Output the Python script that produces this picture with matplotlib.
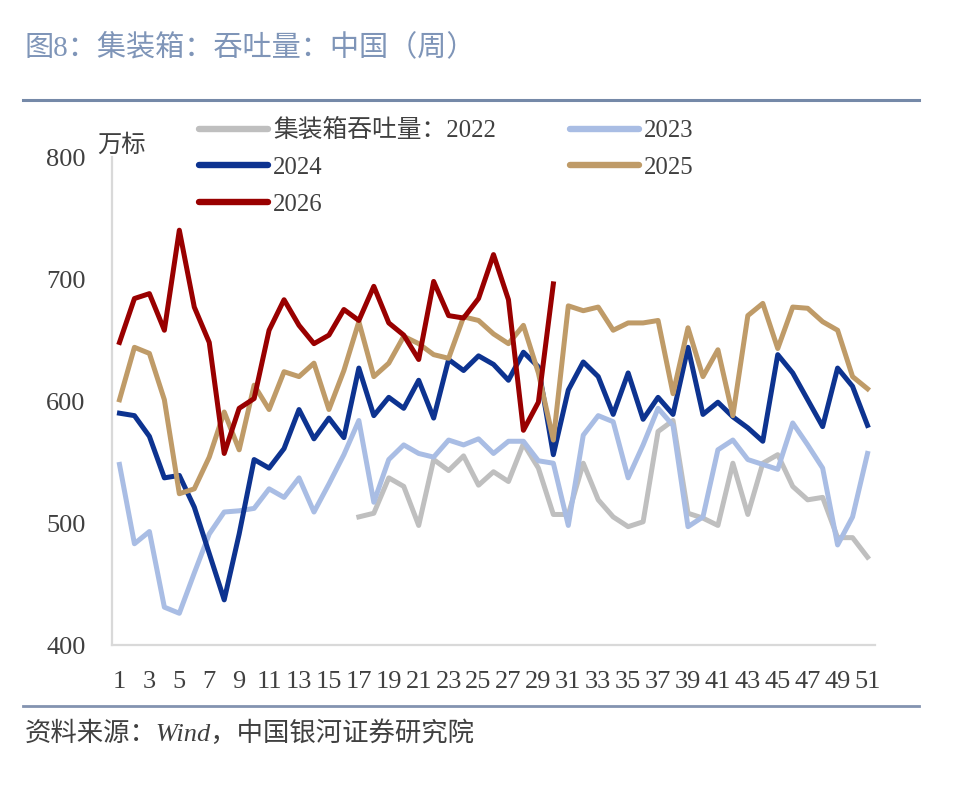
import matplotlib.pyplot as plt
from matplotlib.lines import Line2D

plt.rcParams['font.family'] = ['Liberation Serif', 'Noto Sans CJK SC', 'DejaVu Sans']

# x categories: week number
weeks = list(range(1, 52))
xtick_labels = [str(w) for w in range(1, 52, 2)]

# 集装箱吞吐量（万标），按周
v2022_start = 17
v2022 = [505, 508, 537, 530, 498, 552, 543, 555, 531, 542, 534, 565, 545, 507,
         507, 549, 519, 505, 497, 501, 575, 584, 508, 504, 498, 549, 507, 549,
         556, 530, 519, 521, 488, 488, 472]
v2023 = [548, 483, 493, 431, 426, 459, 491, 509, 510, 512,
         528, 521, 537, 509, 532, 556, 584, 517, 552, 564,
         557, 554, 568, 564, 569, 557, 567, 567, 551, 549,
         498, 572, 588, 583, 537, 564, 594, 580, 497, 505,
         560, 568, 552, 548, 544, 582, 564, 545, 482, 505, 557]
v2024 = [590, 588, 571, 537, 539, 513, 475, 437, 491, 552,
         545, 561, 593, 569, 586, 570, 627, 588, 603, 594,
         617, 586, 634, 625, 637, 630, 617, 640, 628, 556,
         609, 632, 620, 589, 623, 585, 603, 589, 644, 589,
         599, 587, 578, 567, 638, 623, 601, 579, 627, 612, 580]
v2025 = [601, 644, 639, 601, 524, 528, 554, 591, 560, 613,
         593, 624, 620, 631, 593, 625, 665, 620, 631, 653,
         647, 638, 635, 669, 666, 655, 647, 662, 623, 568,
         678, 674, 677, 658, 664, 664, 666, 606, 660, 620,
         642, 588, 670, 680, 643, 677, 676, 665, 658, 620, 610]
v2026 = [648, 684, 688, 658, 740, 677, 648, 557, 594, 602,
         658, 683, 662, 647, 654, 675, 666, 694, 664, 654,
         634, 698, 670, 668, 684, 720, 683, 576, 599, 696]

labels = ['集装箱吞吐量：2022', '2023', '2024', '2025', '2026']
colors = ['#BFBFBF', '#A9BDE4', '#0D3390', '#BF9B68', '#990000']

fig = plt.figure(figsize=(9.54, 7.92), dpi=100)
ax = fig.add_axes([112 / 954, 1 - 645 / 792, 763 / 954, 488 / 792])

lw = 3.6
lines = []
lines += ax.plot(weeks[v2022_start - 1:], v2022, color=colors[0], lw=lw)
lines += ax.plot(weeks, v2023, color=colors[1], lw=lw)
lines += ax.plot(weeks, v2024, color=colors[2], lw=lw)
lines += ax.plot(weeks, v2025, color=colors[3], lw=lw)
lines += ax.plot(weeks[:len(v2026)], v2026, color=colors[4], lw=lw)

ax.set_xlim(0.5, 51.5)
ax.set_ylim(400, 800)
ax.set_yticks([400, 500, 600, 700, 800])
ax.set_xticks(range(1, 52, 2))
ax.set_xticklabels(xtick_labels)
ax.tick_params(length=0, labelsize=19, colors='#404040')
ax.tick_params(axis='x', pad=19)
ax.tick_params(axis='y', pad=19)
for s in ['top', 'right']:
    ax.spines[s].set_visible(False)
for s in ['left', 'bottom']:
    ax.spines[s].set_color('#D9D9D9')
    ax.spines[s].set_linewidth(1.6)

fig.text(97 / 954, 1 - 146 / 792, '万标', fontsize=17.5, color='#404040',
         va='center', ha='left')

# legend: 2 columns, filled column-first
order = [0, 2, 4, 1, 3]
handles = [Line2D([], [], color=colors[i], lw=4.6, solid_capstyle='round') for i in order]
fig.legend(handles, [labels[i] for i in order], ncol=2, frameon=False,
           loc='upper left', bbox_to_anchor=(199 / 954, 1 - 119 / 792),
           fontsize=17.8, handlelength=2.8, handletextpad=0.2,
           columnspacing=3.0, labelspacing=0.58, borderpad=0, borderaxespad=0,
           labelcolor='#404040')

# title and rules
fig.text(25 / 954, 1 - 47 / 792, '图8：集装箱：吞吐量：中国（周）', fontsize=21,
         color='#7F95B8', va='center', ha='left')
fig.add_artist(Line2D([23 / 954, 919 / 954], [1 - 100 / 792, 1 - 100 / 792],
                      color='#7589A8', lw=2.2))
fig.add_artist(Line2D([23 / 954, 919 / 954], [1 - 706 / 792, 1 - 706 / 792],
                      color='#8393B0', lw=2.0))
fig.text(25 / 954, 1 - 733 / 792, '资料来源：Wind，中国银河证券研究院', fontsize=19,
         color='#404040', style='italic', va='center', ha='left')

fig.savefig('out.png', dpi=100)
